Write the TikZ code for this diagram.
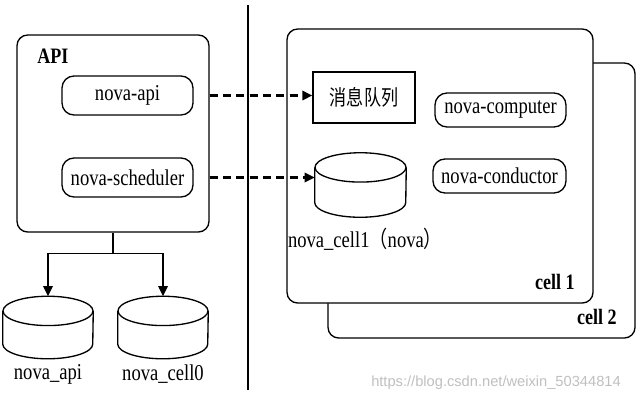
\documentclass[tikz,border=0pt]{standalone}
\usepackage{fontspec}
\setmainfont[FakeStretch=0.82]{Liberation Serif}
\newfontfamily\cjk[FakeStretch=0.8]{Noto Sans CJK SC}
\newfontfamily\markfont{Liberation Sans}
\usetikzlibrary{shapes.geometric, arrows.meta, positioning}
\tikzstyle{group} = [rectangle, rounded corners=8pt, draw, fill=white, line width=1pt]
\tikzstyle{service} = [rectangle, rounded corners=9pt, draw, line width=1pt, text centered,
                       font=\fontsize{17}{19}\selectfont]
\tikzstyle{queue} = [rectangle, draw, line width=1pt, font=\cjk\fontsize{16}{18}\selectfont]
\tikzstyle{db} = [rectangle, minimum width=67.5pt, minimum height=46.5pt, inner sep=0pt]
\tikzstyle{dbline} = [line width=1pt, fill=white]
\tikzstyle{dblabel} = [font=\fontsize{17}{19}\selectfont, inner sep=0pt]
\tikzstyle{title} = [font=\bfseries\fontsize{16.5}{18}\selectfont, inner sep=0pt]
\tikzstyle{arrow} = [-{Triangle[length=7.5pt, width=7pt]}, line width=1.1pt]
\tikzstyle{dasharrow} = [arrow, line width=1.6pt, dash pattern=on 6pt off 4pt]

\begin{document}
\begin{tikzpicture}[x=0.75pt, y=-0.75pt]
    \useasboundingbox (0,0) rectangle (641,401);
    % API side
    \node[group, minimum width=144pt, minimum height=147.75pt] (api) at (113,133.5) {};
    \node[title, anchor=west] (apititle) at (37,56) {API};
    \node[service, minimum width=98.25pt, minimum height=29.25pt] (novaapi) at (127.5,95.5) {nova-api};
    \node[service, minimum width=98.25pt, minimum height=29.25pt] (novasched) at (127.5,177.5) {nova-scheduler};
    \node[db] (apidb) at (48,327.5) {};
    \node[db] (cell0db) at (163,327.5) {};
    \node[dblabel] (apidblabel) at (48,374) {nova\_api};
    \node[dblabel] (cell0dblabel) at (163,374) {nova\_cell0};
    \draw[arrow] (api.south) -- ++(0,21) coordinate (split) -| (apidb.north);
    \draw[arrow] (split) -| (cell0db.north);

    % divider
    \coordinate (divtop) at (248,5);
    \coordinate (divbot) at (248,390);
    \draw[line width=1.8pt] (divtop) -- (divbot);

    % cells
    \node[group, minimum width=230.25pt, minimum height=206.25pt] (cell2) at (481.5,200.5) {};
    \node[group, minimum width=229.5pt, minimum height=205.5pt] (cell1) at (440,166) {};
    \node[title, anchor=east] (cell1title) at (575,282) {cell 1};
    \node[title, anchor=east] (cell2title) at (617,317) {cell 2};
    \node[queue, minimum width=76.5pt, minimum height=38.25pt] (mq) at (364,97.5) {消息队列};
    \node[service, minimum width=98.25pt, minimum height=25.5pt] (computer) at (500.5,110) {nova-computer};
    \node[service, minimum width=99.75pt, minimum height=25.5pt] (conductor) at (499.5,176) {nova-conductor};
    \node[db, minimum width=68.25pt, minimum height=48pt] (cell1db) at (360.5,185) {};
    \node[dblabel] (cell1dblabel) at (365,239) {nova\_cell1{\cjk （}nova{\cjk ）}};

    % cylinders
    \foreach \n/\r in {apidb/33.75pt, cell0db/33.75pt, cell1db/34.125pt} {
        \draw[dbline] ([yshift=-11pt]\n.north west) -- ([yshift=11pt]\n.south west)
            arc[start angle=180, end angle=360, x radius=\r, y radius=11pt]
            -- ([yshift=-11pt]\n.north east);
        \draw[dbline] ([yshift=-11pt]\n.north) ellipse[x radius=\r, y radius=11pt];
    }

    % cross links
    \draw[dasharrow] (novaapi.east -| api.east) -- (novaapi.east -| mq.west);
    \draw[dasharrow] (novasched.east -| api.east) -- (novasched.east -| cell1db.west);

    \node[font=\markfont\fontsize{11}{13}\selectfont, text=black!25] (mark) at (496,383) {https://blog.csdn.net/weixin\_50344814};
\end{tikzpicture}
\end{document}
